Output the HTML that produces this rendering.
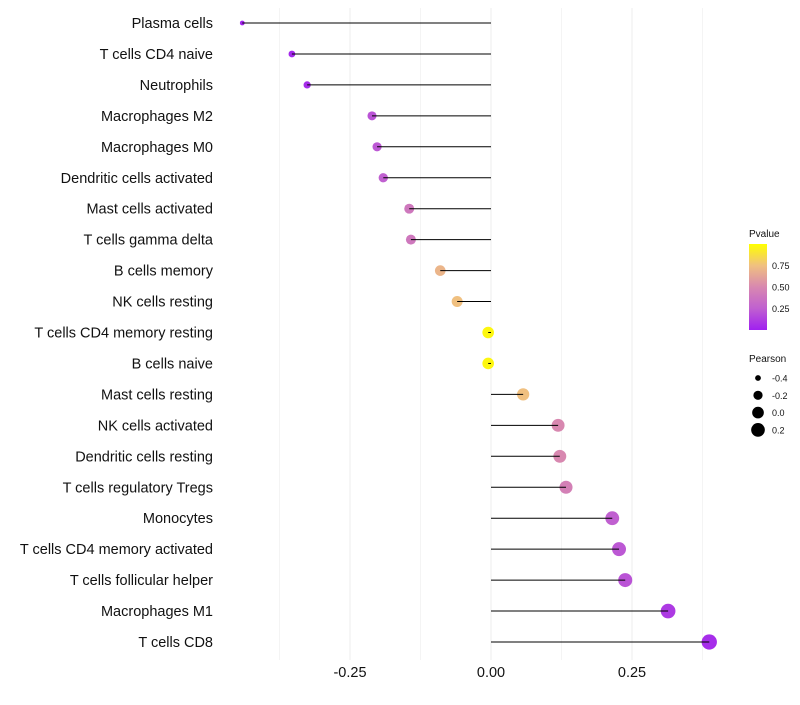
<!DOCTYPE html>
<html><head><meta charset="utf-8"><style>
body{margin:0;background:#fff;font-family:"Liberation Sans",sans-serif}
</style></head><body>
<svg id="c" width="800" height="700" xmlns="http://www.w3.org/2000/svg" font-family="Liberation Sans, sans-serif">
<defs><linearGradient id="pg" x1="0" y1="1" x2="0" y2="0">
<stop offset="0" stop-color="#a020f0"/><stop offset="0.25" stop-color="#c060d0"/><stop offset="0.5" stop-color="#d888b0"/><stop offset="0.75" stop-color="#f0c080"/><stop offset="1" stop-color="#ffff00"/>
</linearGradient></defs>
<g id="grid"></g><g id="marks"></g><g id="labels"></g><g id="legend"></g>
</svg>
<script>
const categories=["Plasma cells","T cells CD4 naive","Neutrophils","Macrophages M2","Macrophages M0","Dendritic cells activated","Mast cells activated","T cells gamma delta","B cells memory","NK cells resting","T cells CD4 memory resting","B cells naive","Mast cells resting","NK cells activated","Dendritic cells resting","T cells regulatory  Tregs ","Monocytes","T cells CD4 memory activated","T cells follicular helper","Macrophages M1","T cells CD8"];
const pearson=[-0.441,-0.353,-0.326,-0.211,-0.202,-0.191,-0.145,-0.142,-0.090,-0.060,-0.005,-0.005,0.057,0.119,0.122,0.133,0.215,0.227,0.238,0.314,0.387];
const pvalue=[0.02,0.03,0.05,0.2,0.22,0.25,0.4,0.4,0.7,0.75,0.97,0.97,0.75,0.5,0.5,0.45,0.25,0.22,0.2,0.1,0.05];
const xTicks=[-0.25,0,0.25];
const xTickLabels=["-0.25","0.00","0.25"];
const pTicks=[0.25,0.5,0.75];
const sizeTicks=[-0.4,-0.2,0.0,0.2];
const NS="http://www.w3.org/2000/svg";
const x=v=>491+v*564;
const y=i=>23+i*30.95;
const r=v=>Math.sqrt(Math.max(2.5,34+64*v));
const stops=[[0,[160,32,240]],[0.25,[192,96,208]],[0.5,[216,136,176]],[0.75,[240,192,128]],[1,[255,255,0]]];
function col(p){p=Math.max(0,Math.min(1,p));for(let k=1;k<stops.length;k++){if(p<=stops[k][0]){const a=stops[k-1],b=stops[k];const t=(p-a[0])/(b[0]-a[0]);return"rgb("+a[1].map((c,j)=>Math.round(c+(b[1][j]-c)*t)).join(",")+")";}}return"rgb(255,255,0)";}
function mk(t,at,parent){const e=document.createElementNS(NS,t);for(const k in at)e.setAttribute(k,at[k]);document.getElementById(parent).appendChild(e);return e;}
for(let v=-0.375;v<=0.376;v+=0.125){const g=mk("line",{x1:x(v),x2:x(v),y1:8,y2:660,stroke:"#ececec","stroke-width":Math.abs((v/0.25)%1)<1e-6?1:0.6},"grid");

}
xTicks.forEach((v,i)=>{const t=mk("text",{x:x(v),y:677,"text-anchor":"middle","font-size":14.5,fill:"#111"},"labels");t.textContent=xTickLabels[i];

});
categories.forEach((c,i)=>{
const t=mk("text",{x:213,y:y(i)+5,"text-anchor":"end","font-size":14.5,fill:"#111"},"labels");t.textContent=c;


const p=mk("circle",{cx:x(pearson[i]),cy:y(i),r:r(pearson[i]),fill:col(pvalue[i])},"marks");


const s=mk("line",{x1:x(pearson[i]),x2:x(0),y1:y(i),y2:y(i),stroke:"#000","stroke-width":1},"marks");


});
const pt=mk("text",{x:749,y:237,"font-size":10,fill:"#111"},"legend");pt.textContent="Pvalue";


const gb=mk("rect",{x:749,y:244,width:18,height:86,fill:"url(#pg)"},"legend");


const py=p=>330-p*86;
pTicks.forEach(p=>{const l=mk("text",{x:772,y:py(p)+3.5,"font-size":9,fill:"#111"},"legend");l.textContent=p.toFixed(2);

});
const st=mk("text",{x:749,y:362,"font-size":10,fill:"#111"},"legend");st.textContent="Pearson";


sizeTicks.forEach((v,i)=>{const cy=378+i*17.3;
const c=mk("circle",{cx:758,cy:cy,r:r(v),fill:"#000"},"legend");


const l=mk("text",{x:772,y:cy+3.5,"font-size":9,fill:"#111"},"legend");l.textContent=v.toFixed(1);

});
</script>
</body></html>
